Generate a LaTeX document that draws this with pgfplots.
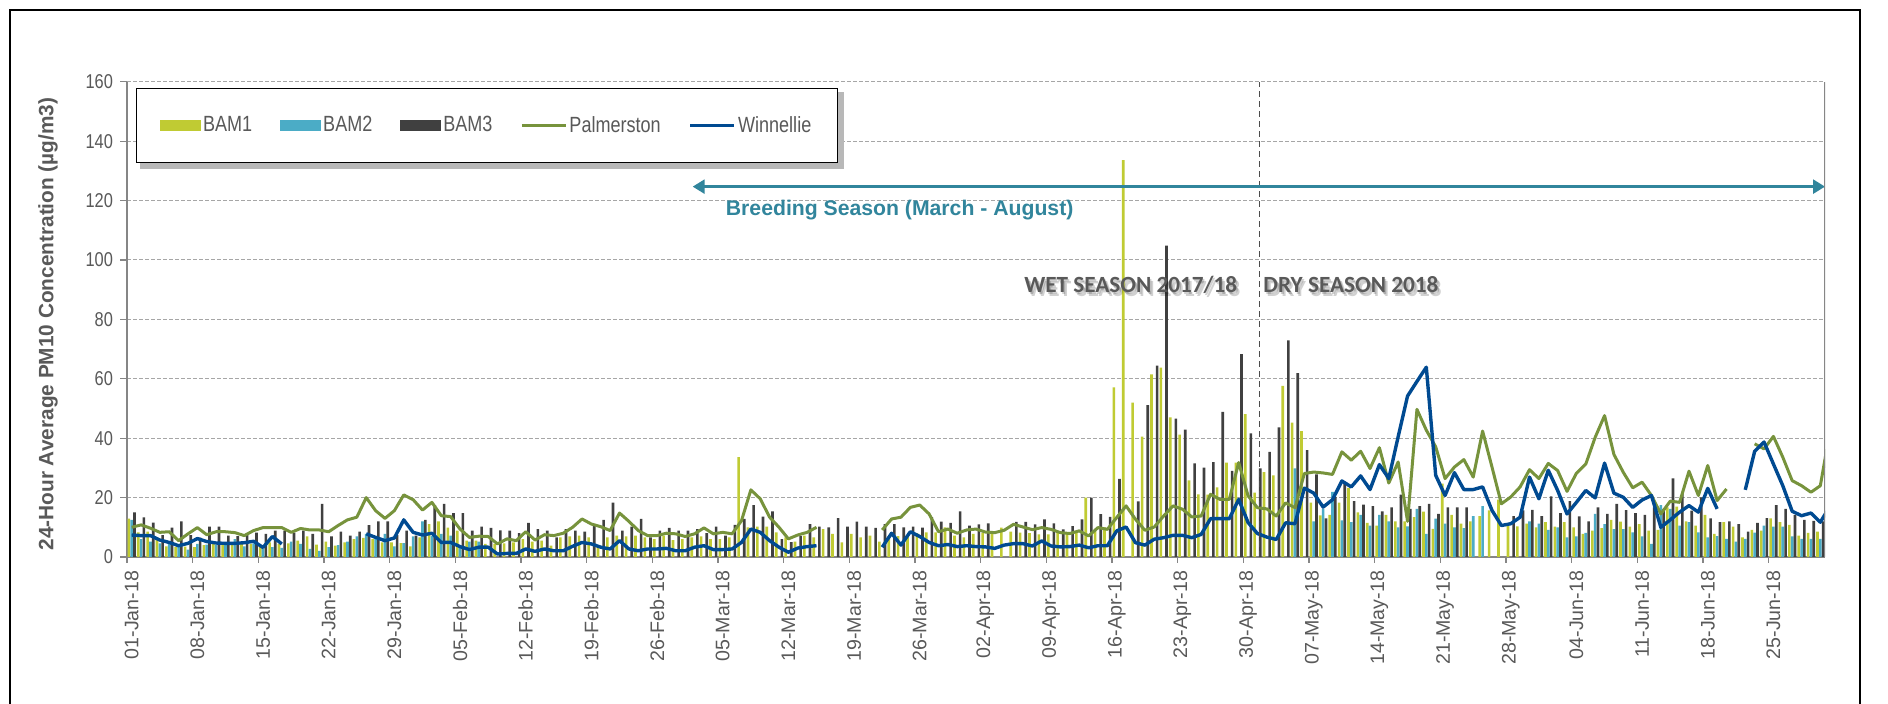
\documentclass[border=0pt]{standalone}
\usepackage{fontspec}
\setmainfont{Liberation Sans}
\newfontfamily\narrow[FakeStretch=0.82]{Liberation Sans}
\newfontfamily\carlito{Carlito}
\usepackage{pgfplots}
\pgfplotsset{compat=1.18}
\usepackage{pgfplotstable}
\usetikzlibrary{arrows.meta}
\definecolor{bamA}{HTML}{C0CB33}
\definecolor{bamB}{HTML}{4BACC6}
\definecolor{bamC}{HTML}{404040}
\definecolor{pal}{HTML}{77933C}
\definecolor{win}{HTML}{004A91}
\definecolor{tealc}{HTML}{31859C}
\definecolor{tickgrey}{HTML}{595959}
\definecolor{axisgrey}{HTML}{868686}
\definecolor{gridgrey}{HTML}{A6A6A6}
\pgfplotstableread{
d b1 b2 b3 P W
0 12.9 12.5 15 10 7.4
1 8.3 6 13.3 10.8 7.2
2 8.5 5.2 11.6 9.7 7.2
3 6.6 4.6 7.4 8.3 5.7
4 3.6 4.9 9.9 8.5 4.9
5 3.3 3.3 12 5.5 3.8
6 3.5 2.5 7.4 7.8 4.6
7 3.3 4.4 6.5 9.9 6.2
8 4 4.2 10.2 7.5 5.2
9 4.4 4 10.2 8.5 4.7
10 4.4 4 7.2 8.5 4.6
11 4.9 6 7 8.2 4.6
12 4.4 3.6 7.8 7.2 4.8
13 4.4 4.6 8.2 8.9 5.3
14 3.3 2.7 7.8 9.9 3.2
15 4.9 3.3 8.9 9.9 6.9
16 4.4 3.1 8.9 9.9 4.4
17 4.6 5.2 8.2 8.3 nan
18 5.5 4.4 8.9 9.6 nan
19 6.9 2.7 7.8 9.1 nan
20 4.2 2.1 17.9 9.1 nan
21 5.2 3.3 6.9 8.5 nan
22 3.8 4 8.5 10.6 nan
23 4.9 5.2 7.2 12.5 nan
24 6 6.9 8.5 13.4 nan
25 6.4 7.8 10.7 20 7.8
26 6 6 12 15.6 6.6
27 4.9 7.8 12 13 5.5
28 4.9 3.6 7.4 15.6 6.4
29 4.7 4.7 8.9 20.9 12.5
30 3.6 6.9 7.2 19.3 8.3
31 6.6 12 12.5 15.8 7.4
32 11.1 7 17.5 18.4 8
33 12 7.8 17.9 13.9 4.9
34 9.9 7.2 14.8 13.6 4.9
35 8.9 3.3 14.8 9.4 3.5
36 5.5 5.2 8.9 6.6 2.5
37 5.5 5.2 10.2 7 3.3
38 4.4 nan 9.8 6.9 3.3
39 4.4 nan 9 4.4 1
40 4.6 nan 8.9 6.1 1.2
41 4.9 nan 8 5.5 1.2
42 6 nan 11.5 8.5 2.7
43 5.2 nan 9.4 5.7 1.9
44 5.5 nan 8.9 7.5 2.7
45 3.8 nan 6.6 7.2 2.1
46 6.6 nan 9.4 8 2.1
47 6.9 nan 8.9 10 3.6
48 7.2 nan 8.5 12.8 4.9
49 6.6 nan 10.6 11.1 4.4
50 3.3 nan 12.5 10.2 3.3
51 6.6 nan 18.3 8.9 2.7
52 7.2 nan 8.9 14.8 5.5
53 6.9 nan 10.2 12 2.7
54 7.2 nan 12.8 8.9 2.1
55 6.6 nan 6.6 7.2 2.7
56 6 nan 8.9 7.2 2.7
57 7.2 nan 9.8 8 2.9
58 5.7 nan 8.9 7.8 2.1
59 6 nan 8.9 6.9 2.1
60 6.6 nan 9.4 7.8 3.3
61 6.9 nan 8 9.8 3.8
62 6 nan 10.2 7.8 2.5
63 6 nan 7.2 8.3 2.5
64 6.6 nan 10.8 7.8 2.7
65 33.6 nan 12.8 12.2 4.9
66 10 nan 17.5 22.6 9.4
67 10.2 nan 13.6 19.6 8.3
68 10.2 nan 15.4 13.4 5.5
69 8.3 nan 6 10 3.3
70 6.6 nan 5 6.1 1.6
71 5.2 nan 7 7.4 3
72 7.2 nan 11.1 8.3 3.5
73 6.6 nan 10.2 10 3.8
74 9.4 nan 10 nan nan
75 7.8 nan 13.1 nan nan
76 4.9 nan 10.2 nan nan
77 7.8 nan 11.9 nan nan
78 6.6 nan 10.2 nan nan
79 7.2 nan 9.8 nan nan
80 5.2 nan 11.1 9.1 3.3
81 7 nan 11.1 12.8 8
82 7 nan 10 13.4 4
83 7 nan 10.2 16.7 8.5
84 8 nan 9.9 17.5 6.9
85 8.3 nan 13.4 14.5 4.9
86 8.3 nan 11.9 8.5 3.8
87 10 nan 11.5 9.4 4.2
88 7.2 nan 15.4 8 3.5
89 6.6 nan 10.6 9.1 3.8
90 7.8 nan 11 9.4 3.5
91 8 nan 11.3 8.4 3.4
92 8 nan nan 8.2 2.9
93 9.9 nan nan 9 4
94 8.5 nan 11.8 11 4.5
95 8.2 nan 11.8 10.1 4.5
96 8 nan 11 9.2 3.7
97 7.6 nan 12.7 9.9 5.4
98 7.6 nan 11.3 9.3 3.7
99 8 nan 9.3 8.2 3.4
100 8 nan 10.4 7.9 3.5
101 8.5 nan 12.7 8.8 4
102 20 nan 20 7.1 3.1
103 9 nan 14.4 9.9 3.8
104 10 nan 13.5 9.3 3.8
105 57.1 nan 26.3 13.3 8.8
106 133.6 nan nan 17.2 10.1
107 52 nan 18.7 12.7 4.8
108 40.5 nan 51.1 9 4
109 61.5 nan 64.4 10.1 6
110 63.8 nan 104.8 13.8 6.5
111 47 nan 46.6 17.2 7.3
112 41.2 nan 42.9 16.1 7.3
113 25.8 nan 31.5 13.5 6.5
114 21.1 nan 30.1 13.8 7.6
115 21 nan 31.9 21.1 12.9
116 23.4 nan 48.9 19.4 12.9
117 31.8 nan 29 19.4 12.9
118 31.8 nan 68.3 31.8 19.4
119 48.1 nan 41.6 20.6 11.6
120 21.7 nan 29.8 16.6 7.9
121 28.6 nan 35.4 16.2 6.7
122 27.5 nan 43.6 13.8 5.9
123 57.6 nan 72.9 18.2 11.5
124 45.2 29.8 61.9 16.6 11.2
125 42.4 nan 36 28.1 23.2
126 18.3 12 27.8 28.6 21.5
127 14 16.2 13 28.3 16.8
128 14.2 21.9 20.2 27.8 19.3
129 18.3 12.3 24.7 35.4 25.6
130 23.3 11.7 18.8 32.6 23.6
131 15 14.2 17.6 35.6 27.3
132 11.5 10.6 17.1 29.8 22.7
133 10.6 14.2 15.4 36.8 31.1
134 14.2 12 16.7 24.9 26.4
135 12 10 21 32 40.5
136 12 10.3 16.2 12 54.2
137 13.4 16.2 17.1 49.7 59.1
138 15.3 7.8 17.9 42.7 63.9
139 9.5 12.9 14.5 37.1 27.5
140 24.7 11.2 16.7 26.4 20.7
141 14.2 10 16.7 30.3 28.4
142 11.2 9.7 16.7 32.8 22.7
143 12 13.8 nan 26.9 22.7
144 13.8 17.1 nan 42.4 23.6
145 15.7 nan nan 30.3 15.7
146 19.3 nan nan 17.9 10.6
147 11.2 nan 13.8 20.2 11.2
148 10.3 nan 15.7 23.6 13.4
149 11.2 12 15.9 29.4 26.9
150 10 11.2 13.8 26.4 19.6
151 11.7 9.1 20.4 31.5 29.2
152 10.2 10 14.8 29.1 22.4
153 11.7 6.6 18.8 22.1 14.5
154 10 6.9 13.7 28.2 18.4
155 7.8 8.1 12 31.3 22.4
156 8.9 14.5 16.7 40.3 19.9
157 9.7 11.1 14.5 47.6 31.6
158 12.5 9.4 17.9 34.5 21.5
159 11.9 9.4 15.8 28.5 20.1
160 10.2 8.3 14.8 23.3 16.7
161 11.1 6.9 14.2 25.2 19.2
162 8.9 4.4 16.7 20.7 20.7
163 9.1 17.5 16.2 14.5 10
164 16.7 16.2 26.5 18.8 12.5
165 17 10.6 21.8 18.4 15.1
166 12 11.7 15.6 28.9 17.3
167 10.6 8.3 20.1 20.7 15.1
168 14.2 6.6 13 30.8 23.1
169 7.8 7 11.7 19 16.2
170 11.7 6.1 12 22.9 nan
171 10.2 5.2 11.1 nan nan
172 6.6 6.1 8.5 nan 22.6
173 9.1 8.2 11.5 38.1 35.6
174 8.9 10.6 13.1 36.4 38.7
175 13 10.2 17.5 40.6 31.3
176 11.7 10.2 16.2 33.6 24
177 10.8 6.9 14.2 25.7 15.4
178 7.2 6.1 12.5 24 13.9
179 8.1 6.1 12.2 21.8 14.8
180 8.5 6.1 12 24 11.7
181 nan nan nan 42 17
}\data
\begin{document}
\begin{tikzpicture}
\useasboundingbox (0,0) rectangle (944pt,352pt);
\fill[white] (0,0) rectangle (944pt,352pt);
\draw[black, line width=1.2pt] (5pt,0) -- (5pt,347pt) -- (930pt,347pt) -- (930pt,0);
\node[rotate=90, inner sep=0, font=\bfseries\fontsize{10.4}{12}\selectfont, text=tickgrey] at (24pt,190pt) {24-Hour Average PM10 Concentration (µg/m3)};
\begin{axis}[
  at={(63.5pt,73.5pt)}, anchor=south west, scale only axis,
  width=849pt, height=237.6pt,
  xmin=-0.5, xmax=180.5, ymin=0, ymax=160,
  ytick={0,20,...,160},
  xtick={0,7,...,175},
  xticklabels={01-Jan-18,08-Jan-18,15-Jan-18,22-Jan-18,29-Jan-18,05-Feb-18,12-Feb-18,19-Feb-18,26-Feb-18,05-Mar-18,12-Mar-18,19-Mar-18,26-Mar-18,02-Apr-18,09-Apr-18,16-Apr-18,23-Apr-18,30-Apr-18,07-May-18,14-May-18,21-May-18,28-May-18,04-Jun-18,11-Jun-18,18-Jun-18,25-Jun-18},
  xtick style={draw=none},
  extra x ticks={-0.5,6.5,...,174.5},
  extra x tick labels={},
  extra x tick style={xtick style={draw=axisgrey, line width=0.6pt}, major tick length=3pt},
  axis x line*=bottom, axis y line*=left,
  axis line style={draw=axisgrey, line width=1pt},
  ymajorgrids,
  major grid style={draw=gridgrey, dash pattern=on 2pt off 1pt, line width=0.5pt},
  tick align=outside,
  ytick style={draw=axisgrey, line width=0.6pt},
  major tick length=3.5pt,
  /pgf/number format/assume math mode=true,
  yticklabel style={font=\narrow\fontsize{10}{12}\selectfont, text=tickgrey},
  xticklabel style={font=\fontsize{9.8}{11}\selectfont, text=tickgrey, rotate=90, anchor=east},
  legend columns=5,
  legend style={at={(0.005,0.987)}, anchor=north west, draw=black, line width=0.6pt, fill=white,
    font=\narrow\fontsize{11}{13}\selectfont, text=tickgrey,
    inner xsep=12pt, inner ysep=12.8pt,
    /tikz/every even column/.append style={column sep=13pt},
    nodes={inner sep=1pt}},
]
\fill[black!28] (rel axis cs:0.0074,0.816) rectangle (rel axis cs:0.4225,0.978);
\addplot[ybar, bar width=0.28, bar shift=-0.3, fill=bamA, draw=none,
  legend image code/.code={\fill[bamA] (0pt,-2.75pt) rectangle (20.5pt,2.75pt);}]
  table[x=d, y=b1] {\data};
\addlegendentry{BAM1}
\addplot[ybar, bar width=0.28, bar shift=0, fill=bamB, draw=none,
  legend image code/.code={\fill[bamB] (0pt,-2.75pt) rectangle (20.5pt,2.75pt);}]
  table[x=d, y=b2] {\data};
\addlegendentry{BAM2}
\addplot[ybar, bar width=0.28, bar shift=0.3, fill=bamC, draw=none,
  legend image code/.code={\fill[bamC] (0pt,-2.75pt) rectangle (20.5pt,2.75pt);}]
  table[x=d, y=b3] {\data};
\addlegendentry{BAM3}
\addplot[pal, line width=1.5pt, mark=none, unbounded coords=jump, line join=round,
  legend image code/.code={\draw[pal, line width=1.5pt] (0pt,0pt) -- (22pt,0pt);}]
  table[x=d, y=P] {\data};
\addlegendentry{Palmerston}
\addplot[win, line width=1.7pt, mark=none, unbounded coords=jump, line join=round,
  legend image code/.code={\draw[win, line width=1.7pt] (0pt,0pt) -- (22pt,0pt);}]
  table[x=d, y=W] {\data};
\addlegendentry{Winnellie}
\draw[black!70, line width=0.7pt, dash pattern=on 3pt off 2pt] (axis cs:120.2,0) -- (axis cs:120.2,160);
\draw[tealc, line width=1.3pt, {Triangle[width=7pt,length=6pt]}-{Triangle[width=7pt,length=6pt]}] (axis cs:59.8,124.7) -- (axis cs:180.5,124.7);
\node[anchor=west, inner sep=0, font=\bfseries\fontsize{10.6}{12}\selectfont, text=tealc] at (axis cs:63.3,116.8) {Breeding Season (March - August)};
\begin{scope}[opacity=0.18]
\node[anchor=west, inner sep=0, font=\carlito\bfseries\fontsize{11.6}{13}\selectfont, text=black] at ([xshift=1.6pt,yshift=-2pt]axis cs:95.1,91.6) {WET SEASON 2017/18};
\node[anchor=west, inner sep=0, font=\carlito\bfseries\fontsize{11.6}{13}\selectfont, text=black] at ([xshift=0.8pt,yshift=-1pt]axis cs:95.1,91.6) {WET SEASON 2017/18};
\node[anchor=west, inner sep=0, font=\carlito\bfseries\fontsize{11.6}{13}\selectfont, text=black] at ([xshift=1.6pt,yshift=-2pt]axis cs:120.6,91.6) {DRY SEASON 2018};
\node[anchor=west, inner sep=0, font=\carlito\bfseries\fontsize{11.6}{13}\selectfont, text=black] at ([xshift=0.8pt,yshift=-1pt]axis cs:120.6,91.6) {DRY SEASON 2018};
\end{scope}
\node[anchor=west, inner sep=0, font=\carlito\bfseries\fontsize{11.6}{13}\selectfont, text=tickgrey] at (axis cs:95.1,91.6) {WET SEASON 2017/18};
\node[anchor=west, inner sep=0, font=\carlito\bfseries\fontsize{11.6}{13}\selectfont, text=tickgrey] at (axis cs:120.6,91.6) {DRY SEASON 2018};
\draw[axisgrey, line width=1pt] (rel axis cs:1,0) -- (rel axis cs:1,1);
\end{axis}
\end{tikzpicture}
\end{document}
